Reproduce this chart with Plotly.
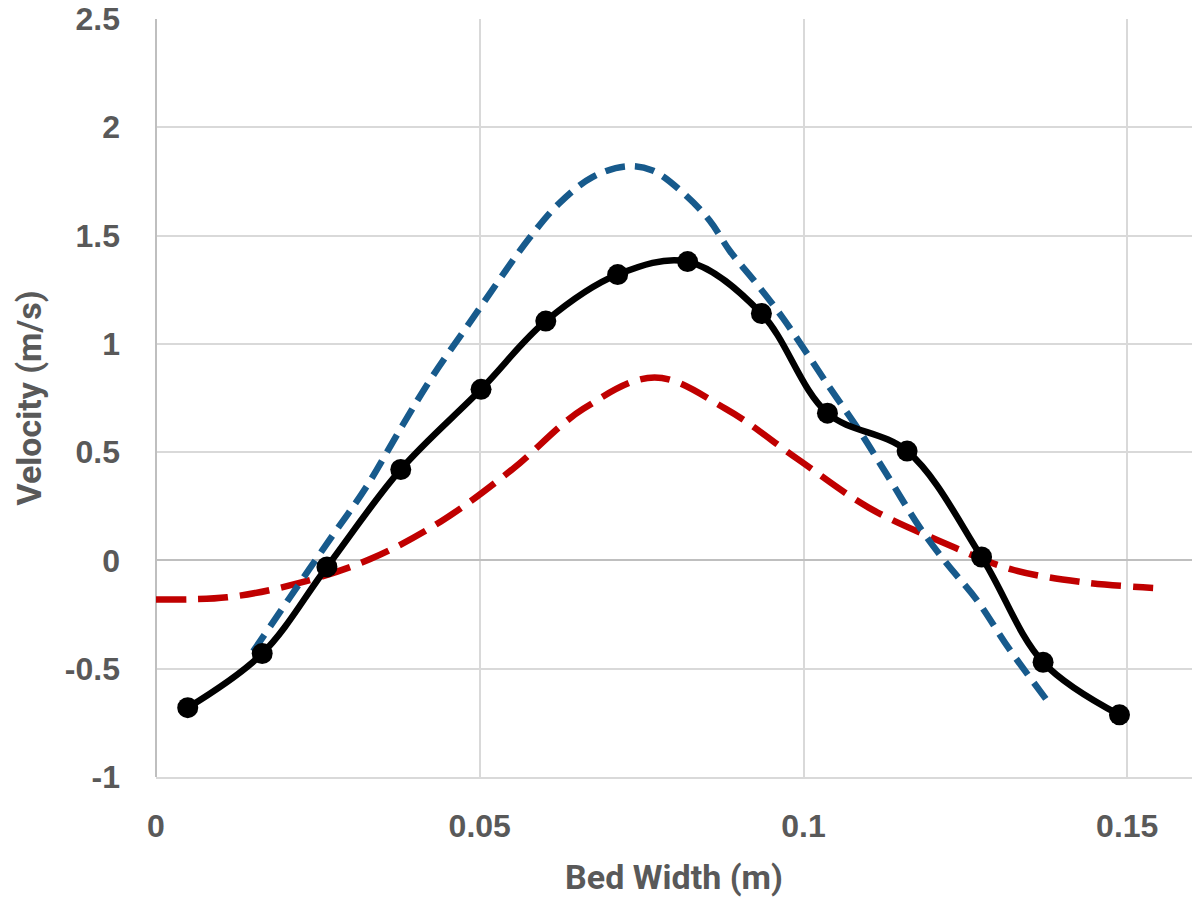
import plotly.graph_objects as go

# Measured (black, markers)
meas_x = [0.0049, 0.0164, 0.0264, 0.0378, 0.0502, 0.0602, 0.0713, 0.0821,
          0.0935, 0.1037, 0.1160, 0.1275, 0.1370, 0.1488]
meas_y = [-0.68, -0.43, -0.03, 0.42, 0.79, 1.105, 1.32, 1.38,
          1.14, 0.68, 0.505, 0.016, -0.47, -0.713]

# Blue dashed series
blue_x = [0.0150, 0.0207, 0.0268, 0.0325, 0.0380, 0.0427, 0.0485, 0.0577, 0.0623,
          0.0674, 0.0727, 0.0767, 0.0813, 0.0855, 0.0886, 0.0927, 0.0968, 0.1040,
          0.1086, 0.1128, 0.1179, 0.1220, 0.1267, 0.1318, 0.1377]
blue_y = [-0.42, -0.17, 0.095, 0.34, 0.62, 0.85, 1.10, 1.49, 1.65,
          1.77, 1.82, 1.80, 1.70, 1.57, 1.43, 1.28, 1.12, 0.80,
          0.60, 0.40, 0.155, -0.01, -0.18, -0.41, -0.65]

# Red dashed series
red_x = [0.0, 0.011, 0.022, 0.033, 0.044, 0.055, 0.066, 0.077,
         0.088, 0.099, 0.110, 0.121, 0.132, 0.143, 0.154]
red_y = [-0.18, -0.17, -0.105, 0.005, 0.18, 0.42, 0.70, 0.845,
         0.70, 0.47, 0.245, 0.09, -0.04, -0.10, -0.127]

x_tickvals = [0, 0.05, 0.1, 0.15]
x_ticktext = ["0", "0.05", "0.1", "0.15"]
y_tickvals = [-1, -0.5, 0, 0.5, 1, 1.5, 2, 2.5]
y_ticktext = ["-1", "-0.5", "0", "0.5", "1", "1.5", "2", "2.5"]

fig = go.Figure()
fig.add_trace(go.Scatter(x=red_x, y=red_y, mode="lines",
                         line=dict(color="#c00000", width=6.5, dash="30px,12px",
                                   shape="spline", smoothing=1.0),
                         showlegend=False))
fig.add_trace(go.Scatter(x=blue_x, y=blue_y, mode="lines",
                         line=dict(color="#175a8c", width=6.5, dash="20px,10px",
                                   shape="spline", smoothing=1.0),
                         showlegend=False))
fig.add_trace(go.Scatter(x=meas_x, y=meas_y, mode="lines+markers",
                         line=dict(color="#000000", width=6.5, shape="spline", smoothing=1.0),
                         marker=dict(color="#000000", size=21),
                         showlegend=False))

tick_font = dict(family="Liberation Sans, Arial, sans-serif", size=32,
                 color="#595959", weight="bold")
title_font = dict(family="Roboto, Liberation Sans, sans-serif", size=34,
                  color="#595959", weight="bold")

fig.update_layout(
    width=1201, height=900,
    margin=dict(l=156, r=9, t=19, b=123),
    paper_bgcolor="white", plot_bgcolor="white",
    xaxis=dict(range=[0, 0.16], tickvals=x_tickvals, ticktext=x_ticktext,
               automargin=False,
               showgrid=True, gridcolor="#d9d9d9", gridwidth=1.5,
               zeroline=True, zerolinecolor="#bfbfbf", zerolinewidth=2,
               showline=True, linecolor="#d9d9d9", linewidth=1.5,
               ticks="", ticklabelstandoff=20, tickfont=tick_font,
               title=dict(text="Bed Width (m)", font=title_font, standoff=22)),
    yaxis=dict(range=[-1, 2.5], tickvals=y_tickvals, ticktext=y_ticktext,
               automargin=False,
               showgrid=True, gridcolor="#d9d9d9", gridwidth=1.5,
               zeroline=True, zerolinecolor="#bfbfbf", zerolinewidth=1.5,
               showline=False,
               ticks="", ticklabelstandoff=35, tickfont=tick_font,
               title=dict(text="Velocity (m/s)", font=title_font, standoff=12)),
)

fig.write_html("out.html")
